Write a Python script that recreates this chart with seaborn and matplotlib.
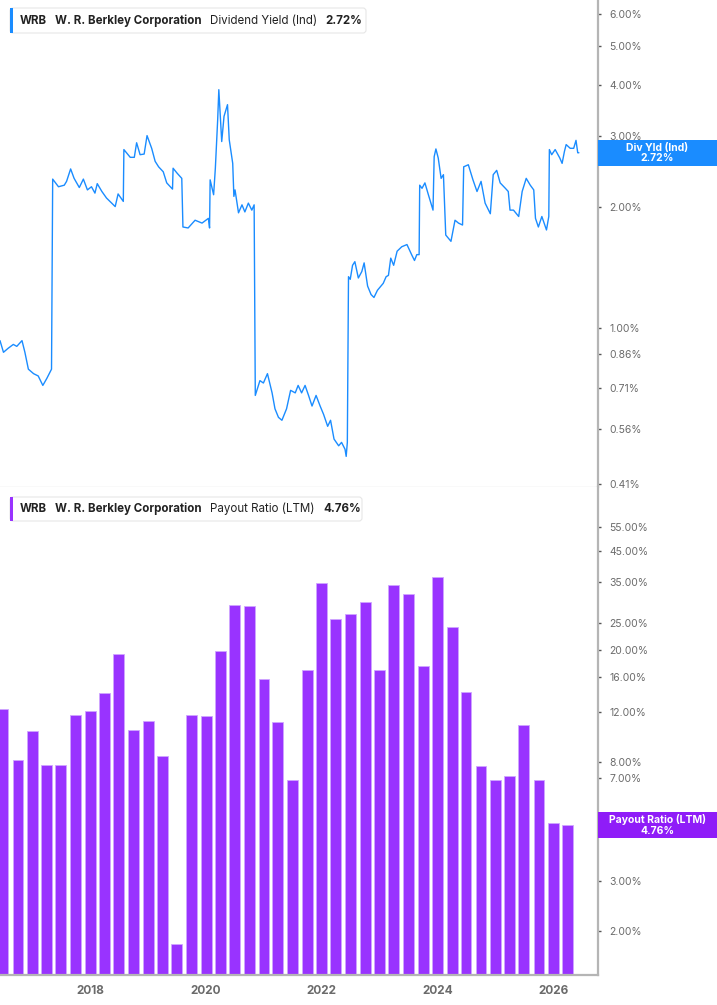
import numpy as np
import pandas as pd
import seaborn as sns
import matplotlib
matplotlib.use('Agg')
from matplotlib import pyplot as plt
from matplotlib.patches import Rectangle, FancyBboxPatch
from matplotlib.offsetbox import TextArea, HPacker, AnchoredOffsetbox

# dividend yield (%), decimal years
yield_years = [
    2016.44, 2016.50, 2016.58, 2016.67, 2016.73, 2016.82, 2016.87, 2016.93, 2017.02, 2017.10,
    2017.18, 2017.25, 2017.33, 2017.35, 2017.45, 2017.55, 2017.59, 2017.66, 2017.72, 2017.81,
    2017.88, 2017.95, 2018.02, 2018.08, 2018.12, 2018.20, 2018.28, 2018.37, 2018.43, 2018.48,
    2018.57, 2018.58, 2018.69, 2018.76, 2018.80, 2018.86, 2018.93, 2018.98, 2019.03, 2019.06,
    2019.12, 2019.18, 2019.26, 2019.32, 2019.42, 2019.43, 2019.50, 2019.58, 2019.60, 2019.69,
    2019.81, 2019.93, 2020.04, 2020.06, 2020.07, 2020.13, 2020.16, 2020.20, 2020.22, 2020.27,
    2020.31, 2020.37, 2020.40, 2020.46, 2020.48, 2020.50, 2020.56, 2020.62, 2020.67, 2020.73,
    2020.79, 2020.83, 2020.85, 2020.93, 2020.99, 2021.06, 2021.14, 2021.19, 2021.25, 2021.31,
    2021.39, 2021.46, 2021.54, 2021.59, 2021.65, 2021.71, 2021.77, 2021.83, 2021.90, 2021.97,
    2022.03, 2022.10, 2022.15, 2022.21, 2022.29, 2022.34, 2022.40, 2022.42, 2022.44, 2022.46,
    2022.49, 2022.53, 2022.57, 2022.63, 2022.69, 2022.73, 2022.79, 2022.85, 2022.90, 2022.96,
    2023.04, 2023.06, 2023.11, 2023.15, 2023.19, 2023.24, 2023.30, 2023.38, 2023.47, 2023.55,
    2023.60, 2023.64, 2023.68, 2023.69, 2023.73, 2023.78, 2023.84, 2023.92, 2023.94, 2023.97,
    2024.01, 2024.06, 2024.10, 2024.14, 2024.23, 2024.30, 2024.36, 2024.43, 2024.45, 2024.53,
    2024.61, 2024.68, 2024.75, 2024.82, 2024.91, 2024.96, 2025.02, 2025.08, 2025.17, 2025.22,
    2025.25, 2025.31, 2025.40, 2025.46, 2025.53, 2025.60, 2025.66, 2025.69, 2025.74, 2025.80,
    2025.88, 2025.92, 2025.93, 2025.97, 2026.03, 2026.11, 2026.15, 2026.19, 2026.22, 2026.29,
    2026.35, 2026.39, 2026.42, 2026.44,
]
yield_values = [
    0.93, 0.87, 0.89, 0.91, 0.90, 0.93, 0.87, 0.79, 0.77, 0.76,
    0.72, 0.75, 0.79, 2.34, 2.24, 2.26, 2.31, 2.48, 2.35, 2.23,
    2.34, 2.20, 2.24, 2.16, 2.28, 2.18, 2.10, 2.04, 2.00, 2.15,
    2.06, 2.77, 2.65, 2.65, 2.88, 2.69, 2.70, 3.00, 2.87, 2.79,
    2.59, 2.51, 2.44, 2.29, 2.21, 2.49, 2.42, 2.35, 1.78, 1.77,
    1.85, 1.82, 1.87, 1.77, 2.33, 2.14, 2.49, 3.28, 3.90, 2.90,
    3.35, 3.58, 2.93, 2.56, 2.12, 2.20, 1.93, 2.02, 1.94, 2.04,
    1.96, 2.02, 0.68, 0.74, 0.73, 0.77, 0.69, 0.63, 0.60, 0.59,
    0.63, 0.70, 0.69, 0.72, 0.69, 0.72, 0.68, 0.64, 0.68, 0.64,
    0.61, 0.57, 0.59, 0.53, 0.51, 0.52, 0.50, 0.48, 0.52, 1.34,
    1.32, 1.43, 1.46, 1.33, 1.38, 1.45, 1.27, 1.21, 1.19, 1.24,
    1.28, 1.29, 1.34, 1.35, 1.49, 1.43, 1.55, 1.59, 1.61, 1.52,
    1.47, 1.52, 1.52, 2.26, 2.22, 2.29, 2.14, 1.96, 2.66, 2.78,
    2.64, 2.35, 2.40, 1.70, 1.64, 1.85, 1.82, 1.80, 2.51, 2.54,
    2.33, 2.18, 2.31, 2.04, 1.92, 2.40, 2.46, 2.29, 2.22, 2.18,
    1.96, 1.96, 1.89, 2.18, 2.35, 2.26, 2.20, 1.87, 1.78, 1.89,
    1.75, 1.89, 2.77, 2.69, 2.77, 2.64, 2.56, 2.74, 2.85, 2.79,
    2.79, 2.92, 2.72, 2.72,
]

# payout ratio (LTM, %), one bar per quarter end
payout_quarters = pd.date_range('2016-06-30', '2026-03-31', freq='QE')
payout_values = [
    12.3, 8.1, 10.3, 7.8, 7.8, 11.7, 12.1, 14.1, 19.4, 10.4,
    11.2, 8.4, 1.79, 11.7, 11.6, 19.9, 29.0, 28.7, 15.8, 11.1,
    6.9, 17.0, 34.7, 25.8, 26.9, 29.6, 17.0, 34.2, 31.7, 17.6,
    36.3, 24.2, 14.2, 7.7, 6.9, 7.1, 10.8, 6.9, 4.82, 4.76,
]

yield_ticks = [0.41, 0.56, 0.71, 0.86, 1, 2, 3, 4, 5, 6]
payout_ticks = [2, 3, 5, 7, 8, 12, 16, 20, 25, 35, 45, 55]
year_ticks = [2018, 2020, 2022, 2024, 2026]

last_yield = 2.72
last_payout = 4.76

BLUE = '#1a8cff'
PURPLE = '#9933ff'
GREY = '#6b6b6b'
SPINE = '#b5b5b5'

sns.set_style('white')
plt.rcParams['font.family'] = ['Inter', 'DejaVu Sans']

W, H = 717, 1005
fig = plt.figure(figsize=(W / 100, H / 100), dpi=100)


def px_rect(x0, y0, x1, y1):
    return [x0 / W, 1 - y1 / H, (x1 - x0) / W, (y1 - y0) / H]


ax1 = fig.add_axes(px_rect(0, 0, 598, 487))
ax2 = fig.add_axes(px_rect(0, 487, 598, 975))

xlo, xhi = 2016.44, 2026.77


def dec_year(d):
    d = pd.DatetimeIndex(d)
    return d.year + (d.dayofyear - 1) / np.where(d.is_leap_year, 366, 365)


# top: dividend yield line
sns.lineplot(x=yield_years, y=yield_values, ax=ax1, color=BLUE, lw=1.0)
ax1.set_yscale('log')
ax1.set_ylim(0.403, 6.51)

# bottom: payout ratio bars
bar_df = pd.DataFrame({'q': np.round(dec_year(payout_quarters), 2), 'v': payout_values})
sns.barplot(data=bar_df, x='q', y='v', ax=ax2, native_scale=True, color=PURPLE,
            saturation=1, width=0.78, errorbar=None, edgecolor='#cfa6ff', linewidth=0.6)
ax2.set_yscale('log')
ax2.set_ylim(1.39, 76.2)

for ax, ticks in ((ax1, yield_ticks), (ax2, payout_ticks)):
    ax.set_xlim(xlo, xhi)
    ax.set_xlabel('')
    ax.set_ylabel('')
    ax.yaxis.tick_right()
    ax.yaxis.set_minor_locator(matplotlib.ticker.NullLocator())
    ax.set_yticks(ticks)
    # the 5% payout label sits under the last-value tag, so leave it blank
    ax.set_yticklabels(['' if (ax is ax2 and t == 5) else f'{t:.2f}%' for t in ticks])
    ax.tick_params(axis='y', which='major', length=2, width=1, color='#555555',
                   labelcolor=GREY, labelsize=7.5, pad=6)
    ax.spines['top'].set_visible(False)
    ax.spines['left'].set_visible(False)
    ax.spines['right'].set_color(SPINE)
    ax.spines['right'].set_linewidth(1.6)
    ax.grid(False)

ax1.set_xticks([])
ax1.spines['bottom'].set_color('#e4e4e4')
ax1.spines['bottom'].set_linewidth(1.0)

ax2.set_xticks(year_ticks)
ax2.set_xticklabels([str(y) for y in year_ticks])
ax2.tick_params(axis='x', length=3, color='#999999', labelcolor=GREY, labelsize=8.5, pad=4)
for lab in ax2.get_xticklabels():
    lab.set_fontweight('bold')
ax2.spines['bottom'].set_color(SPINE)
ax2.spines['bottom'].set_linewidth(1.6)

# last-value tags on the right
for ax, val, color, name in ((ax1, last_yield, BLUE, 'Div Yld (Ind)'),
                             (ax2, last_payout, '#8f1cf8', 'Payout Ratio (LTM)')):
    yc = ax.transData.transform((xlo, val))[1] / 100
    fig.patches.append(Rectangle((5.98, yc - 0.13), 1.19, 0.26, transform=fig.dpi_scale_trans,
                                 facecolor=color, edgecolor='none', zorder=5))
    fig.text(6.575, yc, f'{name}\n{val:.2f}%', transform=fig.dpi_scale_trans, ha='center',
             va='center', color='white', fontsize=7.5, fontweight='bold', linespacing=1.05,
             zorder=6)

# header boxes
for (top, bot, right), color, metric, val in (((8, 33, 366), BLUE, 'Dividend Yield (Ind)', last_yield),
                                              ((497, 521, 362), PURPLE, 'Payout Ratio (LTM)', last_payout)):
    fig.patches.append(FancyBboxPatch((0.10, (H - bot) / 100), (right - 10) / 100, (bot - top) / 100,
                                      boxstyle='round,pad=0,rounding_size=0.03',
                                      transform=fig.dpi_scale_trans, facecolor='white',
                                      edgecolor='#e6e6e6', lw=0.8, zorder=5))
    fig.patches.append(Rectangle((0.10, (H - bot) / 100), 0.03, (bot - top) / 100,
                                 transform=fig.dpi_scale_trans, facecolor=color,
                                 edgecolor='none', zorder=6))
    tp = dict(fontsize=8.3, color='#222222')
    parts = [TextArea('WRB', textprops=dict(tp, fontweight='bold')),
             TextArea('W. R. Berkley Corporation', textprops=dict(tp, fontweight='bold')),
             TextArea(metric, textprops=tp),
             TextArea(f'{val:.2f}%', textprops=dict(tp, fontweight='bold'))]
    pack = HPacker(children=parts, sep=6, pad=0, align='baseline')
    box = AnchoredOffsetbox(loc='center left', child=pack, frameon=False, pad=0, borderpad=0,
                            bbox_to_anchor=(20 / W, 1 - (top + bot) / 2 / H),
                            bbox_transform=fig.transFigure)
    box.set_zorder(7)
    fig.add_artist(box)

fig.savefig('out.png', dpi=100)
